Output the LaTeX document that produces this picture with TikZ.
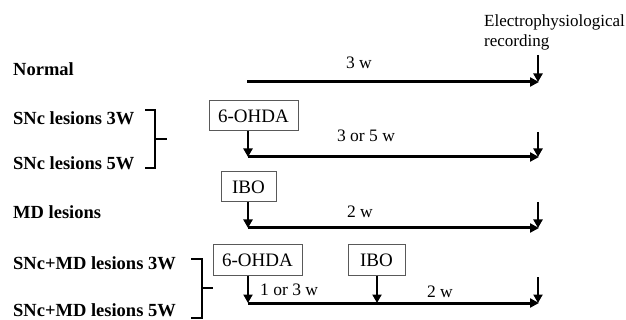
\documentclass[tikz,border=0pt]{standalone}
\usepackage{fontspec}
\setmainfont{Liberation Serif}
\usetikzlibrary{arrows.meta}
\begin{document}
\begin{tikzpicture}[x=1pt,y=-1pt,
  lbl/.style={font=\fontsize{18.5}{20}\selectfont\bfseries, anchor=west, inner sep=0pt},
  dur/.style={font=\fontsize{17.5}{20}\selectfont, inner sep=0pt},
  box/.style={draw=black!65, line width=1pt, font=\fontsize{19}{21}\selectfont, inner sep=0pt, minimum height=30pt},
  tl/.style={line width=3pt, -{Triangle[length=9pt,width=9pt]}},
  va/.style={line width=2.5pt, -{Triangle[length=8.5pt,width=9pt]}},
  br/.style={line width=1.6pt}]
\useasboundingbox (0,0) rectangle (626,320);

% labels
\node[lbl] (l1) at (13,69) {Normal};
\node[lbl] (l2) at (13,118) {SNc lesions 3W};
\node[lbl] (l3) at (13,163) {SNc lesions 5W};
\node[lbl] (l4) at (13,212) {MD lesions};
\node[lbl] (l5) at (13,263) {SNc+MD lesions 3W};
\node[lbl] (l6) at (13,310) {SNc+MD lesions 5W};

% brackets
\draw[br] (145,110) -- (155,110) -- (155,168) -- (145,168);
\draw[br] (155,139) -- (167,139);
\draw[br] (191,259) -- (202,259) -- (202,318) -- (191,318);
\draw[br] (202,288) -- (213,288);

% recording label
\node[font=\fontsize{17}{20}\selectfont, align=left, anchor=north west, inner sep=0pt] (rec) at (484,15) {Electrophysiological\\recording};

% row 1
\coordinate (s1) at (247,82);
\coordinate (e1) at (539,82);
\coordinate (r1) at (538,55);
\draw[tl] (s1) -- (e1);
\draw[va] (r1) -- (538,82);
\node[dur] (d1) at (359,63) {3 w};

% row 2
\node[box, minimum width=89pt] (b2) at (253.5,116) {6-OHDA};
\coordinate (s2) at (248,157);
\coordinate (e2) at (539,157);
\coordinate (r2) at (538,132);
\draw[tl] (s2) -- (e2);
\draw[va] (b2.south -| s2) -- (s2);
\draw[va] (r2) -- (538,157);
\node[dur] (d2) at (366,136) {3 or 5 w};

% row 3
\node[box, minimum width=55pt] (b3) at (248.5,187) {IBO};
\coordinate (s3) at (248,228);
\coordinate (e3) at (539,228);
\coordinate (r3) at (538,202);
\draw[tl] (s3) -- (e3);
\draw[va] (b3.south -| s3) -- (s3);
\draw[va] (r3) -- (538,228);
\node[dur] (d3) at (360,212) {2 w};

% row 4
\node[box, minimum width=89pt] (b4) at (257.5,260) {6-OHDA};
\node[box, minimum width=57pt] (b5) at (376.5,260) {IBO};
\coordinate (s4) at (248,303);
\coordinate (m4) at (377,303);
\coordinate (e4) at (539,303);
\coordinate (r4) at (538,277);
\draw[tl] (s4) -- (e4);
\draw[va] (b4.south -| s4) -- (s4);
\draw[va] (b5.south -| m4) -- (m4);
\draw[va] (r4) -- (538,303);
\node[dur, anchor=west] (d4) at (260,290) {1 or 3 w};
\node[dur] (d5) at (440,292) {2 w};
\end{tikzpicture}
\end{document}
